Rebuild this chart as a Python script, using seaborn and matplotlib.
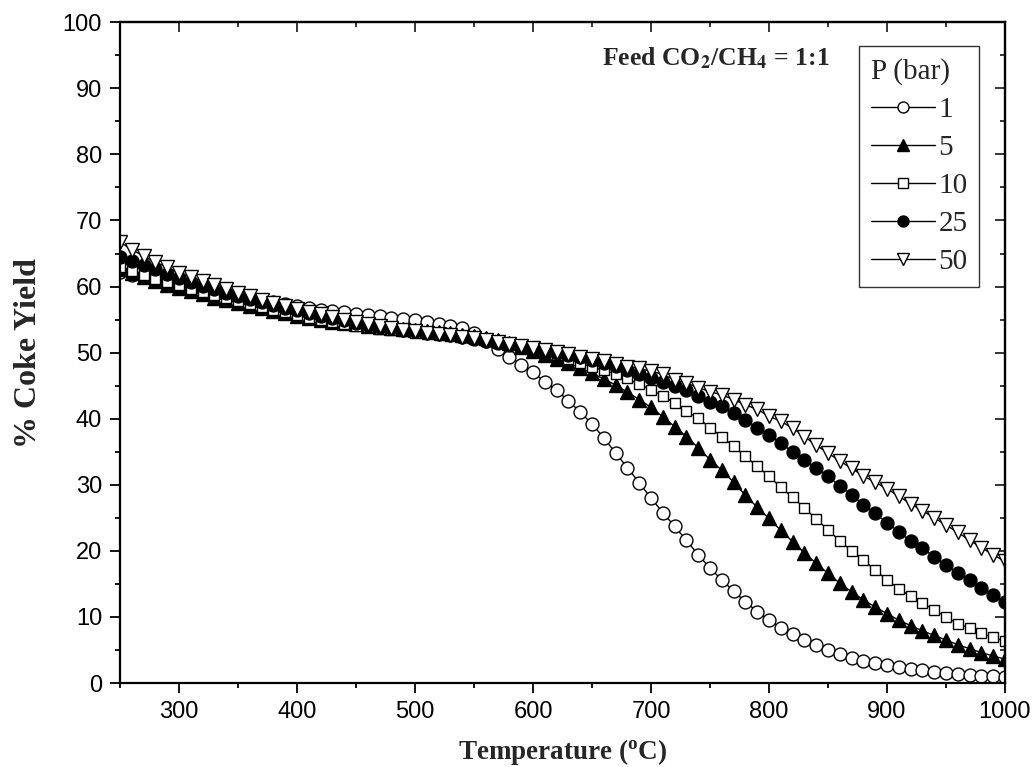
import numpy as np
import pandas as pd
import matplotlib
matplotlib.use("Agg")
import matplotlib.pyplot as plt
from matplotlib.lines import Line2D
from matplotlib.ticker import MultipleLocator
import seaborn as sns

temperature = list(range(250, 1001, 10))

p1 = [62.2, 61.8, 61.4, 61.0, 60.6, 60.2, 59.8, 59.5, 59.1, 58.8, 58.5, 58.2, 57.9, 57.6, 57.3, 57.0,
      56.8, 56.5, 56.3, 56.1, 55.9, 55.7, 55.5, 55.3, 55.1, 54.9, 54.7, 54.4, 54.1, 53.7, 52.9, 51.8,
      50.5, 49.4, 48.2, 47.0, 45.6, 44.3, 42.7, 41.0, 39.2, 37.1, 34.8, 32.6, 30.3, 28.0, 25.8, 23.7,
      21.6, 19.4, 17.4, 15.6, 13.9, 12.3, 10.8, 9.5, 8.4, 7.4, 6.5, 5.7, 5.0, 4.4, 3.8, 3.4, 3.0, 2.7,
      2.4, 2.1, 1.9, 1.7, 1.5, 1.4, 1.2, 1.1, 1.0, 0.9]
p5 = [62.6, 62.0, 61.4, 60.9, 60.3, 59.8, 59.3, 58.8, 58.3, 57.9, 57.5, 57.1, 56.7, 56.3, 56.0, 55.6,
      55.3, 55.0, 54.7, 54.5, 54.3, 54.1, 53.9, 53.8, 53.6, 53.5, 53.3, 53.1, 52.9, 52.7, 52.5, 52.2,
      51.9, 51.5, 50.9, 50.3, 49.7, 49.1, 48.4, 47.7, 46.9, 46.0, 45.1, 44.0, 42.9, 41.7, 40.3, 38.8,
      37.3, 35.6, 33.8, 32.2, 30.4, 28.4, 26.6, 24.9, 23.1, 21.4, 19.7, 18.1, 16.6, 15.1, 13.8, 12.6,
      11.5, 10.5, 9.5, 8.7, 7.9, 7.2, 6.5, 5.8, 5.2, 4.6, 4.1, 3.6]
p10 = [63.0, 62.4, 61.8, 61.2, 60.7, 60.2, 59.7, 59.2, 58.7, 58.2, 57.8, 57.3, 56.9, 56.5, 56.1, 55.7,
       55.3, 55.0, 54.7, 54.4, 54.1, 53.9, 53.6, 53.4, 53.2, 53.0, 52.8, 52.7, 52.5, 52.3, 52.1, 51.8,
       51.5, 51.2, 50.9, 50.5, 50.1, 49.6, 49.0, 48.4, 47.8, 47.3, 46.8, 46.1, 45.2, 44.4, 43.4, 42.4,
       41.1, 40.1, 38.6, 37.3, 35.8, 34.3, 32.8, 31.3, 29.6, 28.1, 26.5, 24.8, 23.2, 21.5, 20.0, 18.6,
       17.1, 15.6, 14.3, 13.1, 12.1, 11.1, 10.0, 9.0, 8.3, 7.5, 6.9, 6.3]
p25 = [64.5, 63.8, 63.2, 62.6, 61.9, 61.3, 60.7, 60.1, 59.6, 59.0, 58.5, 58.1, 57.6, 57.2, 56.8, 56.4,
       56.0, 55.6, 55.2, 54.9, 54.5, 54.2, 53.9, 53.7, 53.4, 53.2, 53.0, 52.8, 52.6, 52.4, 52.1, 51.8,
       51.5, 51.2, 50.9, 50.6, 50.3, 50.0, 49.7, 49.3, 48.9, 48.5, 48.0, 47.4, 46.8, 46.2, 45.6, 44.9,
       44.3, 43.4, 42.6, 41.9, 40.9, 39.8, 38.6, 37.6, 36.3, 35.0, 33.8, 32.5, 31.3, 29.8, 28.5, 27.0,
       25.7, 24.2, 22.9, 21.5, 20.4, 19.1, 17.9, 16.6, 15.6, 14.4, 13.3, 12.3]
p50 = [66.7, 65.6, 64.6, 63.7, 62.9, 62.1, 61.4, 60.8, 60.2, 59.6, 59.0, 58.5, 58.0, 57.5, 57.0, 56.6,
       56.2, 55.8, 55.4, 55.0, 54.7, 54.4, 54.1, 53.8, 53.5, 53.3, 53.0, 52.8, 52.6, 52.4, 52.2, 51.9,
       51.6, 51.3, 51.0, 50.7, 50.4, 50.1, 49.8, 49.4, 49.0, 48.7, 48.3, 47.9, 47.6, 47.2, 46.7, 45.9,
       45.4, 44.7, 44.1, 43.6, 42.9, 42.1, 41.4, 40.4, 39.6, 38.6, 37.3, 36.0, 34.8, 33.6, 32.5, 31.3,
       30.4, 29.4, 28.3, 27.1, 26.1, 25.0, 23.9, 22.8, 21.6, 20.5, 19.4, 18.4]

pressures = ["1", "5", "10", "25", "50"]
series = [p1, p5, p10, p25, p50]
markers = ["o", "^", "s", "o", "v"]
faces = ["white", "black", "white", "black", "white"]
msizes = {"o": 9.3, "^": 10, "s": 7.8, "v": 10}

sns.set_style("ticks")
plt.rcParams["font.family"] = ["Liberation Sans", "DejaVu Sans"]
plt.rcParams["mathtext.fontset"] = "stix"

fig = plt.figure(figsize=(10.35, 7.67), dpi=100)
ax = fig.add_axes([0.116, 0.1095, 0.855, 0.8615])

for lab, vals, mk, fc in zip(pressures, series, markers, faces):
    df = pd.DataFrame({"T": temperature, "Y": vals})
    sns.lineplot(data=df, x="T", y="Y", ax=ax, color="black", linewidth=1.0,
                 marker=mk, markersize=msizes[mk], markerfacecolor=fc,
                 markeredgecolor="black", markeredgewidth=1.0, legend=False)

ax.set_xlim(250, 1000)
ax.set_ylim(0, 100)
ax.xaxis.set_major_locator(MultipleLocator(100))
ax.xaxis.set_minor_locator(MultipleLocator(50))
ax.yaxis.set_major_locator(MultipleLocator(10))
ax.yaxis.set_minor_locator(MultipleLocator(5))
ax.set_xticks([300, 400, 500, 600, 700, 800, 900, 1000])

for s in ax.spines.values():
    s.set_linewidth(1.6)
    s.set_color("black")
    s.set_visible(True)

ax.tick_params(which="both", direction="out", width=1.3, colors="black",
               labelsize=17, top=False, right=False, pad=6)
ax.tick_params(which="major", length=7)
ax.tick_params(which="minor", length=3.6)
axt = ax.secondary_xaxis("top")
axt.xaxis.set_major_locator(MultipleLocator(100))
axt.xaxis.set_minor_locator(MultipleLocator(50))
axt.tick_params(which="both", direction="in", width=1.3, labeltop=False)
axt.tick_params(which="major", length=7)
axt.tick_params(which="minor", length=3.6)
axt.spines["top"].set_linewidth(1.6)
axr = ax.secondary_yaxis("right")
axr.yaxis.set_major_locator(MultipleLocator(10))
axr.yaxis.set_minor_locator(MultipleLocator(5))
axr.tick_params(which="both", direction="in", width=1.3, labelright=False)
axr.tick_params(which="major", length=7)
axr.tick_params(which="minor", length=3.6)
axr.spines["right"].set_linewidth(1.6)

serif = ["Liberation Serif", "DejaVu Serif"]
ax.set_xlabel("Temperature ($\\mathregular{^o}$C)", family=serif, fontweight="bold",
              fontsize=19.5, labelpad=10)
ax.set_ylabel("% Coke Yield", family=serif, fontweight="bold", fontsize=23, labelpad=14)

ax.text(0.802, 0.946, r"Feed CO$_\mathbf{2}$/CH$_\mathbf{4}$ = 1:1", transform=ax.transAxes,
        ha="right", va="center", family=serif, fontweight="bold", fontsize=18.5)

handles = [Line2D([0], [0], color="black", linewidth=1.0, marker=mk, markersize=msizes[mk] * 0.85,
                  markerfacecolor=fc, markeredgecolor="black", markeredgewidth=1.0)
           for mk, fc in zip(markers, faces)]
leg = ax.legend(handles, pressures, title="P (bar)", loc="upper left",
                bbox_to_anchor=(0.835, 0.964), borderaxespad=0, frameon=True,
                fancybox=False, handlelength=2.2, handletextpad=0.12, labelspacing=0.4,
                borderpad=0.4, prop={"family": serif, "size": 21},
                title_fontproperties={"family": serif, "size": 21})
leg._legend_box.align = "left"
leg.get_frame().set_edgecolor("black")
leg.get_frame().set_linewidth(1.0)

fig.savefig("out.png", dpi=100, facecolor="white")
